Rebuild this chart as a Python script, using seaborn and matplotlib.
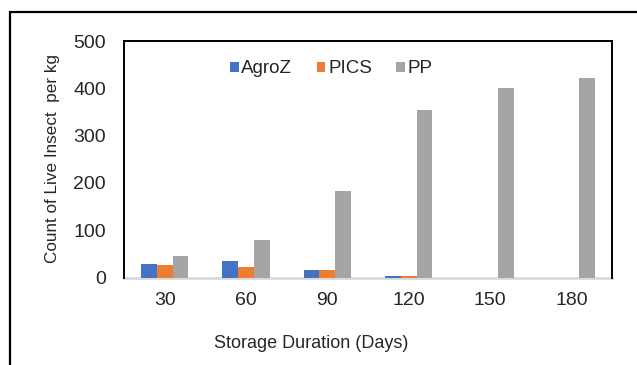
import matplotlib
matplotlib.use("Agg")
import matplotlib.pyplot as plt
import seaborn as sns
import pandas as pd
from matplotlib.patches import Rectangle

days = ["30", "60", "90", "120", "150", "180"]
agroz = [28, 34, 15, 4, 0, 0]
pics = [26, 23, 15, 4, 0, 0]
pp = [45, 80, 183, 354, 400, 422]
series_names = ["AgroZ", "PICS", "PP"]
colors = ["#4472C4", "#ED7D31", "#A5A5A5"]
y_ticks = [0, 100, 200, 300, 400, 500]

df = pd.DataFrame({
    "day": days * 3,
    "value": agroz + pics + pp,
    "series": [s for s in series_names for _ in days],
})

sns.set_theme(style="white")
plt.rcParams["font.family"] = ["Liberation Sans", "DejaVu Sans"]

W, H = 637, 365
fig = plt.figure(figsize=(W / 100, H / 100), dpi=100)
left, right, top, bottom = 124, 612, 41, 277.5
ax = fig.add_axes([left / W, 1 - bottom / H, (right - left) / W, (bottom - top) / H])

sns.barplot(data=df, x="day", y="value", hue="series", order=days,
            hue_order=series_names, palette=colors, width=0.58,
            saturation=1, gap=0, linewidth=0, ax=ax, legend=True)
for p in ax.patches:
    p.set_zorder(3)
    p.set_linewidth(0)

ax.set_ylim(0, 500)
ax.set_yticks(y_ticks)
ax.set_xlim(-0.5, len(days) - 0.5)
ax.tick_params(axis="both", length=0, labelsize=14, colors="#262626")
ax.tick_params(axis="y", pad=13)
ax.tick_params(axis="x", pad=10.5)
ax.set_xlabel("Storage Duration (Days)", fontsize=13, color="#262626", va="center")
ax.xaxis.set_label_coords(0.383, -0.277)
ax.set_ylabel("Count of Live Insect  per kg", fontsize=12.3, color="#262626", va="center")
ax.yaxis.set_label_coords(-0.146, 0.503)

for s in ["left", "top", "right"]:
    ax.spines[s].set_color("black")
    ax.spines[s].set_linewidth(1.4)
    ax.spines[s].set_visible(True)
ax.spines["bottom"].set_color("#D9D9D9")
ax.spines["bottom"].set_linewidth(2)
ax.spines["bottom"].set_zorder(2)

leg = ax.legend(loc="center", bbox_to_anchor=(0.425, 0.882), ncol=3, frameon=False,
                fontsize=13.5, handlelength=0.45, handleheight=0.45, handletextpad=0.15,
                columnspacing=1.3)
for t in leg.get_texts():
    t.set_color("#262626")

fig.patches.append(Rectangle((10 / W, -0.1), 1.2, 1 - 12 / H + 0.1,
                             transform=fig.transFigure, fill=False,
                             edgecolor="black", linewidth=1.6))

fig.savefig("out.png", dpi=100)
